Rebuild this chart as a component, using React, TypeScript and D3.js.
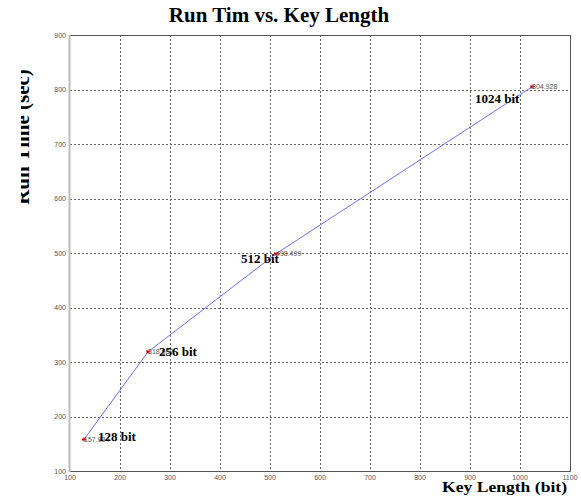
import React from "react";
import * as d3 from "d3";

const keyLengths = [128, 256, 512, 1024];
const runTimes = [157.934, 318.652, 498.499, 804.928];
const valueLabels = ["157.934", "318.652", "498.499", "804.928"];
const bitLabels = ["128 bit", "256 bit", "512 bit", "1024 bit"];
const xTicks = [100, 200, 300, 400, 500, 600, 700, 800, 900, 1000, 1100];
const yTicks = [100, 200, 300, 400, 500, 600, 700, 800, 900];
const titleText = "Run Tim vs. Key Length";
const xLabelText = "Key Length (bit)";
const yLabelText = "Run Time (sec)";

const W = 581;
const H = 498;
const left = 70, right = 570, top = 35, bottom = 471;

// pixel offsets for the bold bit labels (from each point)
const bitOffsets: [number, number][] = [
  [14, 2],
  [11, 4],
  [-35, 9],
  [-57, 16],
];

export default function App() {
  const x = d3.scaleLinear().domain([100, 1100]).range([left, right]);
  const y = d3.scaleLinear().domain([100, 900]).range([bottom, top]);
  const pts: [number, number][] = keyLengths.map((k, i) => [x(k), y(runTimes[i])]);
  const line = d3.line<[number, number]>()(pts) || "";
  const tickFont = "'Liberation Sans', Arial, sans-serif";
  const serif = "'Liberation Serif', 'Times New Roman', serif";

  return (
    <svg
      width={W}
      height={H}
      style={{ position: "absolute", left: 0, top: 0, background: "#fff" }}
    >
      <defs>
        <clipPath id="ylabClip">
          <rect x={21} y={0} width={40} height={H} />
        </clipPath>
      </defs>
      <rect x={0} y={0} width={W} height={H} fill="#fff" />
      {/* grid */}
      {xTicks.slice(1, -1).map((t) => (
        <line
          key={"gx" + t}
          x1={Math.round(x(t)) + 0.5}
          x2={Math.round(x(t)) + 0.5}
          y1={top}
          y2={bottom}
          stroke="#666"
          strokeWidth={1}
          strokeDasharray="2,2"
        />
      ))}
      {yTicks.slice(1, -1).map((t) => (
        <line
          key={"gy" + t}
          x1={left}
          x2={right}
          y1={Math.round(y(t)) + 0.5}
          y2={Math.round(y(t)) + 0.5}
          stroke="#666"
          strokeWidth={1}
          strokeDasharray="2,2"
        />
      ))}
      {/* frame */}
      <line x1={left} x2={right + 1} y1={top + 0.5} y2={top + 0.5} stroke="#555" />
      <line x1={right + 0.5} x2={right + 0.5} y1={top} y2={bottom} stroke="#555" />
      <line x1={left} x2={right + 1} y1={bottom + 0.5} y2={bottom + 0.5} stroke="#555" />
      <line x1={left - 0.5} x2={left - 0.5} y1={top} y2={bottom + 1} stroke="#bbb" strokeWidth={2} />
      {/* tick labels */}
      {xTicks.map((t) => (
        <text
          key={"xt" + t}
          x={x(t)}
          y={480}
          fontSize={7}
          fontFamily={tickFont}
          fill="#555"
          textAnchor="middle"
        >
          {t}
        </text>
      ))}
      {yTicks.map((t) => (
        <text
          key={"yt" + t}
          x={66}
          y={y(t) + 2.5}
          fontSize={7}
          fontFamily={tickFont}
          fill="#555"
          textAnchor="end"
        >
          {t}
        </text>
      ))}
      {/* line */}
      <path d={line} fill="none" stroke="#6f6fff" strokeWidth={1} />
      {/* markers */}
      {pts.map(([px, py], i) => (
        <g key={"m" + i} stroke="#e00000" strokeWidth={1}>
          <line x1={px - 2} x2={px + 2} y1={py} y2={py} />
          <line x1={px} x2={px} y1={py - 2} y2={py + 2} />
          <line x1={px - 1.5} x2={px + 1.5} y1={py - 1.5} y2={py + 1.5} />
          <line x1={px - 1.5} x2={px + 1.5} y1={py + 1.5} y2={py - 1.5} />
        </g>
      ))}
      {/* value labels */}
      {pts.map(([px, py], i) => (
        <text
          key={"v" + i}
          x={px}
          y={py + 2.5}
          fontSize={7}
          fontFamily={tickFont}
          fill="#555"
        >
          {valueLabels[i]}
        </text>
      ))}
      {/* bit labels */}
      {pts.map(([px, py], i) => (
        <text
          key={"b" + i}
          x={px + bitOffsets[i][0]}
          y={py + bitOffsets[i][1]}
          fontSize={13}
          fontWeight="bold"
          fontFamily={serif}
          fill="#000"
        >
          {bitLabels[i]}
        </text>
      ))}
      {/* title */}
      <text
        x={279}
        y={22}
        fontSize={21}
        fontWeight="bold"
        fontFamily={serif}
        textAnchor="middle"
        fill="#000"
      >
        {titleText}
      </text>
      {/* x label */}
      <text
        x={442}
        y={492}
        fontSize={15.5}
        fontWeight="bold"
        fontFamily={serif}
        textLength={125}
        lengthAdjust="spacingAndGlyphs"
        fill="#000"
      >
        {xLabelText}
      </text>
      {/* y label (clipped at left) */}
      <g clipPath="url(#ylabClip)">
        <text
          transform="translate(29,137) rotate(-90)"
          fontSize={21}
          fontWeight="bold"
          fontFamily={serif}
          textAnchor="middle"
          fill="#000"
        >
          {yLabelText}
        </text>
      </g>
    </svg>
  );
}
